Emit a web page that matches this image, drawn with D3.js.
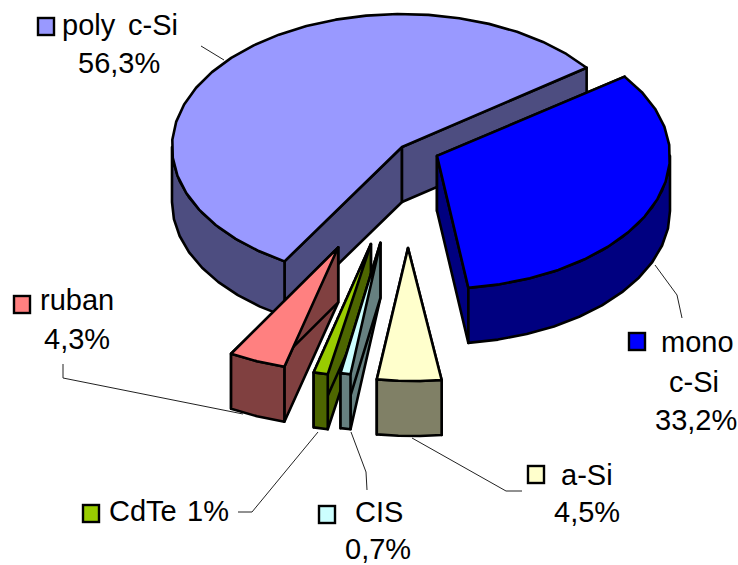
<!DOCTYPE html>
<html>
<head>
<meta charset="utf-8">
<script src="https://cdn.jsdelivr.net/npm/d3@7/dist/d3.min.js"></script>
<style>
html, body { margin: 0; padding: 0; background: #fff; overflow: hidden; }
svg { display: block; }
text { font-family: "Liberation Sans", Arial, sans-serif; font-size: 29px; fill: #000; }
</style>
</head>
<body>
<svg id="chart" width="738" height="565"></svg>
<script>
// Photovoltaic technology market shares, clockwise from the first-quadrant edge
const technologies = ["mono c-Si", "a-Si", "CIS", "CdTe", "ruban", "poly c-Si"];
const shares = [33.2, 4.5, 0.7, 1, 4.3, 56.3];

// Colours per technology
const topColors  = ["#0000ff", "#ffffcc", "#ccffff", "#99cc00", "#ff8080", "#9999ff"];
const sideColors = ["#000080", "#808066", "#668080", "#4d6600", "#804040", "#4d4d80"];

// How far each wedge is pulled out of the pie, its rim size, the lean of
// its rim relative to its tip, and a small sideways nudge of the tip
const explode = [0.17, 0.76, 0.733, 0.75, 0.82, 0];
const rimScale = [1, 1, 1, 1, 0.93, 1];
const rimShear = [0, 0.04, 0.05, 0.025, 0.02, 0];
const tipNudge = [-3, 0, 0, 0, 0, 0];

// Paint order: back of the pie first
const paintOrder = [5, 0, 4, 3, 2, 1];

// Label blocks: swatch top-left corner and text lines
const labelBlocks = [
  { tech: 5, key: [38, 18], lines: [["poly", 62, 35], ["c-Si", 128, 35], ["56,3%", 78, 73]] },
  { tech: 0, key: [629, 333], lines: [["mono", 661, 352], ["c-Si", 669, 392], ["33,2%", 655, 430]] },
  { tech: 1, key: [528, 466], lines: [["a-Si", 561, 485], ["4,5%", 554, 522]] },
  { tech: 2, key: [319, 506], lines: [["CIS", 355, 522], ["0,7%", 345, 559]] },
  { tech: 3, key: [83, 505], lines: [["CdTe", 109, 521], ["1%", 187, 521]] },
  { tech: 4, key: [14, 296], lines: [["ruban", 40, 310], ["4,3%", 44, 349]] }
];

// Leader lines from wedges to their labels
const leaders = [
  [[201, 46], [224, 60]],
  [[655, 265], [677, 295], [682, 318]],
  [[412, 438], [506, 491], [522, 491]],
  [[351, 432], [366, 472], [367, 490]],
  [[318, 432], [252, 512], [238, 512]],
  [[63, 364], [63, 378], [243, 414]]
];

const cx = 402, cy = 147, rx = 230, ry = 133, depth = 55;
const svg = d3.select("#chart");
const deg = Math.PI / 180;

const arcs = d3.pie().sort(null)
  .startAngle(53.4 * deg)
  .endAngle(53.4 * deg + 2 * Math.PI)(shares);

const line = d3.line();
const closed = pts => line(pts) + "Z";

// Rim samples are coarse enough to keep the faceted outline of the drawing
function rimAngles(a0, a1) {
  const n = Math.max(1, Math.ceil((a1 - a0) / (8 * deg)));
  return d3.range(n + 1).map(i => a0 + (a1 - a0) * i / n);
}

const outline = sel => sel.attr("stroke", "#000").attr("stroke-width", 2.6).attr("stroke-linejoin", "round");

for (const i of paintOrder) {
  const a0 = arcs[i].startAngle - Math.PI / 2;
  const a1 = arcs[i].endAngle - Math.PI / 2;
  const mid = (a0 + a1) / 2;
  const k = explode[i];
  const ax = cx + k * (rx * Math.cos(mid) + 12);
  const ay = cy + k * ry * Math.sin(mid);
  const s = rimScale[i];
  const rim = a => {
    const y = s * ry * Math.sin(a);
    return [ax + s * rx * Math.cos(a) + rimShear[i] * y, ay + y];
  };
  const down = p => [p[0], p[1] + depth];
  const apex = [ax + tipNudge[i], ay];

  const g = svg.append("g").attr("class", "wedge");

  // Radial walls
  for (const a of [a0, a1]) {
    g.append("path")
      .attr("d", closed([apex, rim(a), down(rim(a)), down(apex)]))
      .attr("fill", sideColors[i]).call(outline);
  }

  // Outer wall, only where it faces the viewer
  const w0 = Math.max(a0, 0), w1 = Math.min(a1, Math.PI);
  if (w1 > w0) {
    const upper = rimAngles(w0, w1).map(rim);
    g.append("path")
      .attr("d", closed(upper.concat(upper.map(down).reverse())))
      .attr("fill", sideColors[i]).call(outline);
  }

  // Top face
  g.append("path")
    .attr("d", closed([apex].concat(rimAngles(a0, a1).map(rim))))
    .attr("fill", topColors[i]).call(outline);

  // The CdTe wedge has a dotted light edge on its left side
  if (technologies[i] === "CdTe") {
    const p = rim(a1);
    g.append("path")
      .attr("d", line([p, [p[0] + 0.8 * (ax - p[0]), p[1] + 0.8 * (ay - p[1])]]))
      .attr("transform", "translate(-2,-1)")
      .attr("fill", "none").attr("stroke", "#fff")
      .attr("stroke-width", 1.2).attr("stroke-dasharray", "2 2");
  }
}

// Leader lines
svg.append("g").selectAll("path").data(leaders).join("path")
  .attr("d", line).attr("fill", "none")
  .attr("stroke", "#222").attr("stroke-width", 1);

// Labels and colour swatches
for (const block of labelBlocks) {
  svg.append("rect")
    .attr("x", block.key[0]).attr("y", block.key[1])
    .attr("width", 16).attr("height", 17)
    .attr("fill", topColors[block.tech])
    .attr("stroke", "#000").attr("stroke-width", 2.4);
  svg.append("g").selectAll("text").data(block.lines).join("text")
    .attr("x", d => d[1]).attr("y", d => d[2]).text(d => d[0]);
}
</script>
</body>
</html>
